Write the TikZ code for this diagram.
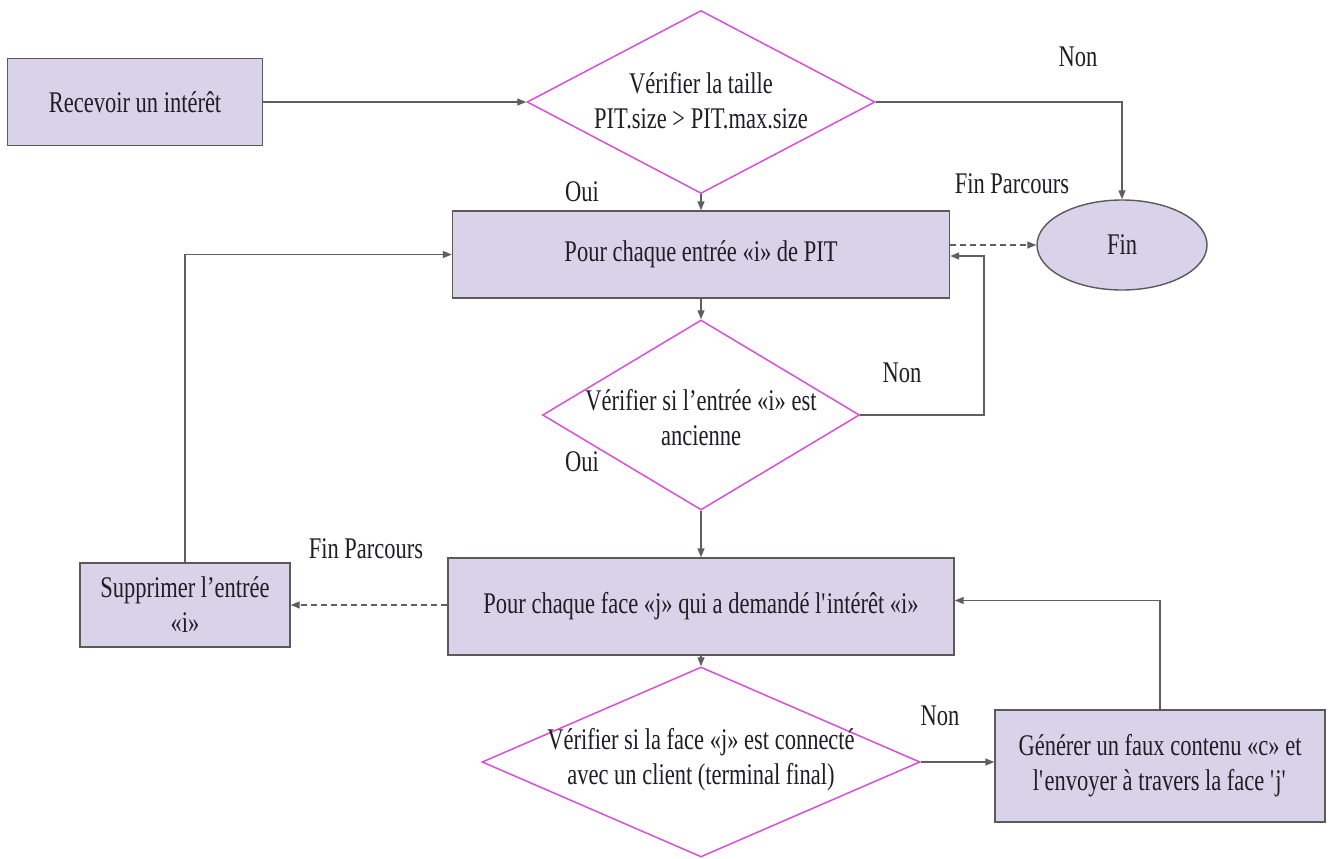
\documentclass[tikz,border=0pt]{standalone}
\usepackage{fontspec}
\setmainfont{Liberation Serif}[FakeStretch=0.75]
\usetikzlibrary{arrows.meta,shapes.geometric}

\definecolor{lav}{HTML}{D9D2E9}
\definecolor{boxedge}{HTML}{5A5A5A}
\definecolor{mag}{HTML}{D94FD9}
\definecolor{wire}{HTML}{5F5F5F}
\definecolor{ink}{HTML}{1E1E24}

\tikzset{
  x=1pt, y=-1pt,
  every node/.style={font=\fontsize{30}{35}\selectfont, text=ink},
  procbox/.style={draw=boxedge, fill=lav, line width=1.4pt, inner sep=0pt, align=center},
  decbox/.style={diamond, draw=mag, fill=white, line width=1.5pt, inner sep=0pt},
  dectext/.style={align=center, inner sep=0pt},
  endbox/.style={ellipse, draw=boxedge, fill=lav, line width=1.4pt, inner sep=0pt},
  lbl/.style={inner sep=0pt},
  arr/.style={draw=wire, line width=1.4pt, -{Triangle[length=9pt,width=7pt]}},
  dasharr/.style={arr, dash pattern=on 6pt off 4pt},
}

\begin{document}
\begin{tikzpicture}
\useasboundingbox (0,0) rectangle (1330,859);

% process boxes
\node[procbox, minimum width=255pt, minimum height=87pt] (rec) at (135,102) {Recevoir un intérêt};
\node[procbox, minimum width=497pt, minimum height=87pt] (pit) at (701,254.5) {Pour chaque entrée «i» de PIT};
\node[procbox, minimum width=506pt, minimum height=97pt] (face) at (701,606.5) {Pour chaque face «j» qui a demandé l\textquotesingle intérêt «i»};
\node[procbox, minimum width=210pt, minimum height=84pt] (sup) at (185,605) {Supprimer l’entrée\\«i»};
\node[procbox, minimum width=330pt, minimum height=112pt] (gen) at (1160,766) {Générer un faux contenu «c» et\\l\textquotesingle envoyer à travers la face \textquotesingle j\textquotesingle};

% terminal
\node[endbox, minimum width=170pt, minimum height=90pt] (fin) at (1122,245) {Fin};

% decisions
\node[decbox, minimum width=348pt, minimum height=183pt] (d1) at (701,102) {};
\node[dectext] (d1t) at (701,101) {Vérifier la taille\\PIT.size > PIT.max.size};
\node[decbox, minimum width=317pt, minimum height=190pt] (d2) at (701,415) {};
\node[dectext] (d2t) at (701,418) {Vérifier si l’entrée «i» est\\ancienne};
\node[decbox, minimum width=438pt, minimum height=190pt] (d3) at (701,762) {};
\node[dectext] (d3t) at (701,760) {Vérifier si la face «j» est connecté\\avec un client (terminal final)};

% branch labels
\node[lbl] (non1) at (1078,57) {Non};
\node[lbl] (fp1) at (1012,184) {Fin Parcours};
\node[lbl] (oui1) at (582,192) {Oui};
\node[lbl] (non2) at (902,373) {Non};
\node[lbl] (oui2) at (582,462) {Oui};
\node[lbl] (fp2) at (366,549) {Fin Parcours};
\node[lbl] (non3) at (940,716) {Non};

% connectors
\coordinate (loopA) at (984,256);
\draw[arr] (rec.east) -- (d1.west);
\draw[arr] (d1.east) -| (fin.north);
\draw[arr] (d1.south) -- (pit.north);
\draw[dasharr] (pit.east |- fin.west) -- (fin.west);
\draw[arr] (d2.east) -| (loopA) -- (loopA -| pit.east);
\draw[arr] (pit.south) -- (d2.north);
\draw[arr] (d2.south) -- (face.north);
\draw[dasharr] (face.west |- sup.east) -- (sup.east);
\draw[arr] (sup.north) |- (pit.west);
\draw[arr] (face.south) -- (d3.north);
\draw[arr] (d3.east) -- (d3.east -| gen.west);
\draw[arr] (gen.north) |- ([yshift=6pt]face.east);
\end{tikzpicture}
\end{document}
